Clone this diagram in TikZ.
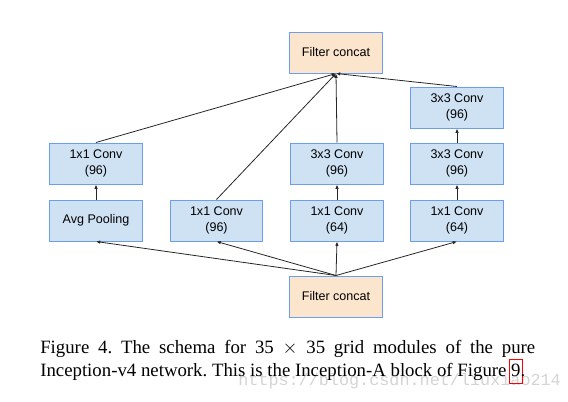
\documentclass[tikz,border=0pt]{standalone}
\usepackage{fontspec}
\setmainfont{Liberation Serif}
\newfontfamily\diagfont{Liberation Sans}
\newfontfamily\wmfont{Liberation Mono}
\usetikzlibrary{arrows.meta}
\definecolor{convfill}{HTML}{CFE2F3}
\definecolor{concatfill}{HTML}{FCE5CD}
\definecolor{boxline}{HTML}{6D9EEB}
\definecolor{wmgray}{HTML}{D4D4D4}
\newcommand\linkbox[1]{{\fboxsep=1pt\fboxrule=0.6pt\kern-1.6pt\textcolor{red}{\fbox{\textcolor{black}{\vrule width0pt height 10.8pt depth 3.9pt#1}}}\kern-1.6pt}}
\tikzset{
  layer/.style={draw=boxline, line width=0.75pt, fill=convfill, minimum width=69.5pt, minimum height=30.75pt,
    inner sep=0pt, align=center, font=\diagfont\fontsize{9.4pt}{12pt}\selectfont},
  concat/.style={layer, fill=concatfill},
  conn/.style={line width=0.6pt, draw=black!85, -{Latex[length=3.2pt,width=2.6pt]}},
}
\begin{document}
\begin{tikzpicture}[x=0.75pt,y=-0.75pt]
\useasboundingbox (0,0) rectangle (568,401);
% boxes
\node[concat] (top) at (336,52.5) {Filter concat};
\node[layer] (c4c) at (457,107.5) {3x3 Conv\\(96)};
\node[layer] (c1b) at (96,163.5) {1x1 Conv\\(96)};
\node[layer] (c3b) at (337,163.5) {3x3 Conv\\(96)};
\node[layer] (c4b) at (457,163.5) {3x3 Conv\\(96)};
\node[layer] (c1a) at (96,220.5) {Avg Pooling};
\node[layer] (c2a) at (216.5,220.5) {1x1 Conv\\(96)};
\node[layer] (c3a) at (337,220.5) {1x1 Conv\\(64)};
\node[layer] (c4a) at (457,220.5) {1x1 Conv\\(64)};
\node[concat] (bot) at (336,296.5) {Filter concat};
% connectors from bottom concat
\draw[conn] (bot.north) -- (c1a.south);
\draw[conn] (bot.north) -- (c2a.south);
\draw[conn] (bot.north) -- (c3a.south);
\draw[conn] (bot.north) -- (c4a.south);
% within branches
\draw[conn] (c1a.north) -- (c1b.south);
\draw[conn] (c3a.north) -- (c3b.south);
\draw[conn] (c4a.north) -- (c4b.south);
\draw[conn] (c4b.north) -- (c4c.south);
% into top concat
\draw[conn] (c1b.north) -- (top.south);
\draw[conn] (c2a.north) -- (top.south);
\draw[conn] (c3b.north) -- (top.south);
\draw[conn] (c4c.north) -- (top.south);
% watermark
\node[anchor=base west, inner sep=0pt, text=wmgray, font=\wmfont\fontsize{12.6pt}{14pt}\selectfont] (wm) at (238,385) {https://blog.csdn.net/liuxiao214};
% caption
\node[anchor=base west, inner sep=0pt, text width=371.25pt, align=justify,
  font=\fontsize{14.1pt}{17.25pt}\selectfont\frenchspacing] (cap) at (40,353)
  {Figure 4. The schema for 35 $\times$ 35 grid modules of the pure Inception-v4 network. This is the Inception-A block of Figure~\linkbox{9}.};
\end{tikzpicture}
\end{document}
